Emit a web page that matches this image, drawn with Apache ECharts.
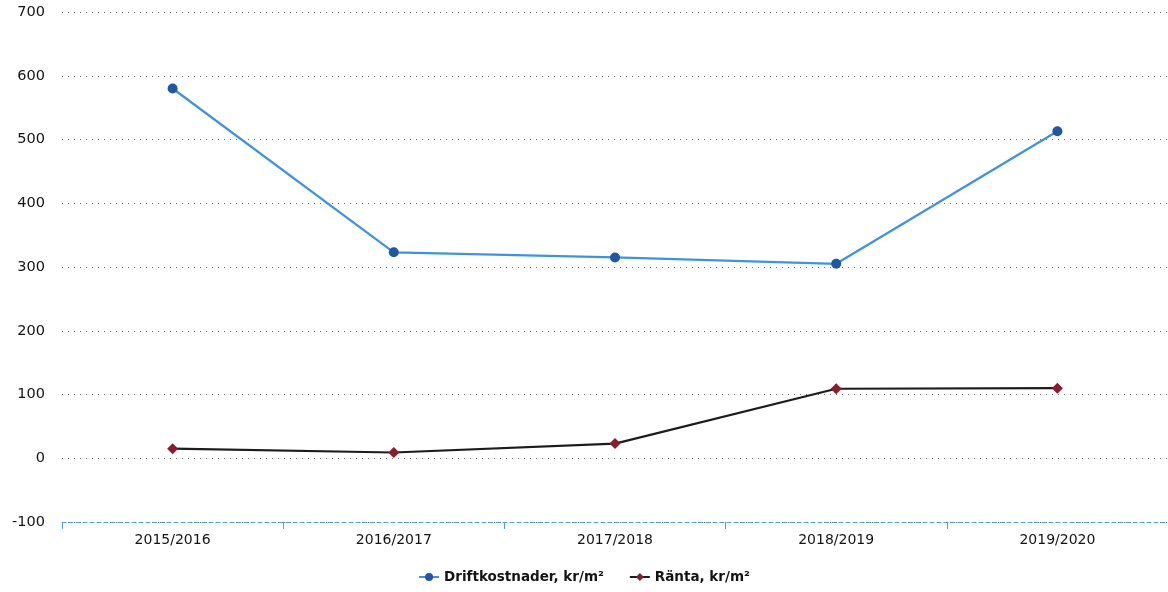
<!DOCTYPE html>
<html>
<head>
<meta charset="utf-8">
<style>
  html, body { margin: 0; padding: 0; background: #ffffff; }
  #chart { width: 1168px; height: 592px; }
</style>
<script src="https://cdn.jsdelivr.net/npm/echarts@6/dist/echarts.min.js"></script>
</head>
<body>
<div id="chart"></div>
<script>
// Fiscal years along the x axis
const years = ['2015/2016', '2016/2017', '2017/2018', '2018/2019', '2019/2020'];

// Operating costs per square metre (kr/m²)
const driftkostnader = [580, 323, 315, 305, 513];

// Interest cost per square metre (kr/m²)
const ranta = [15, 9, 23, 109, 110];

// Value axis range and step
const yMin = -100;
const yMax = 700;
const yStep = 100;

const seriesNames = ['Driftkostnader, kr/m²', 'Ränta, kr/m²'];

const FONT = 'DejaVu Sans';
const chart = echarts.init(document.getElementById('chart'), null, { renderer: 'canvas' });

chart.setOption({
  animation: false,
  backgroundColor: '#ffffff',
  grid: { left: 62, right: 0, top: 12, bottom: 70, containLabel: false },
  legend: {
    bottom: 3,
    left: 'center',
    itemWidth: 20,
    itemHeight: 10,
    itemGap: 25,
    textStyle: { fontFamily: FONT, fontSize: 13.5, fontWeight: 'bold', color: '#141414' },
    data: seriesNames
  },
  xAxis: {
    type: 'category',
    data: years,
    boundaryGap: true,
    axisLine: {
      onZero: false,
      lineStyle: { color: '#4f9fd9', width: 1, type: [4, 3] }
    },
    axisTick: {
      show: true,
      inside: false,
      length: 7,
      lineStyle: { color: '#4f9fd9', width: 1 }
    },
    axisLabel: { fontFamily: FONT, fontSize: 14, color: '#141414', margin: 11 },
    splitLine: { show: false }
  },
  yAxis: {
    type: 'value',
    min: yMin,
    max: yMax,
    interval: yStep,
    axisLine: { show: false },
    axisTick: { show: false },
    axisLabel: { fontFamily: FONT, fontSize: 14.5, color: '#141414', margin: 17 },
    splitLine: {
      show: true,
      lineStyle: { color: '#6e6e6e', width: 1, type: [1, 5] }
    }
  },
  series: [
    {
      name: seriesNames[0],
      type: 'line',
      data: driftkostnader,
      symbol: 'circle',
      symbolSize: 10,
      lineStyle: { color: '#3f92e2', width: 2.2 },
      itemStyle: { color: '#1f57a3' }
    },
    {
      name: seriesNames[1],
      type: 'line',
      data: ranta,
      symbol: 'diamond',
      symbolSize: 11,
      lineStyle: { color: '#1c1c1c', width: 2.2 },
      itemStyle: { color: '#8a1c2e' }
    }
  ]
});
</script>
</body>
</html>
